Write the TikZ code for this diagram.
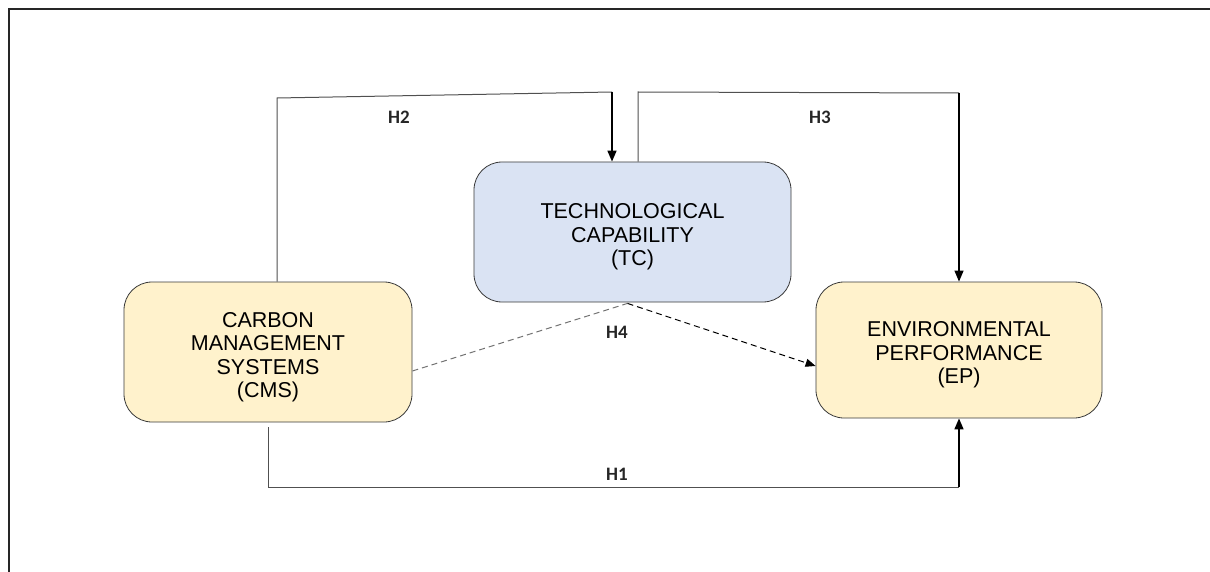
\documentclass[tikz,border=0pt]{standalone}
\usepackage{fontspec}
\setmainfont{Liberation Sans}
\newfontfamily\labelfont{Carlito}
\usetikzlibrary{arrows.meta}
\definecolor{tcfill}{HTML}{DAE3F3}
\definecolor{boxfill}{HTML}{FFF2CC}
\definecolor{boxline}{HTML}{3A3A3A}
\definecolor{wire}{HTML}{505050}
% invisible strut that lowers the text block inside a box
\newcommand{\toppad}{\rule{0pt}{25pt}}

\begin{document}
\begin{tikzpicture}[x=1pt,y=-1pt,
  concept/.style={draw=boxline, line width=0.8pt, rounded corners=28pt,
    inner sep=0pt, align=center, font=\fontsize{21.5}{23.5}\selectfont},
  wireline/.style={draw=wire, line width=1pt},
  arrowline/.style={draw=black, line width=1.6pt,
    -{Triangle[width=9pt,length=11pt]}},
  dashline/.style={line width=1pt, dash pattern=on 6pt off 4pt},
  hyp/.style={font=\labelfont\bfseries\fontsize{19}{22}\selectfont, text=black!85}
]
\useasboundingbox (0,0) rectangle (1210,572);

% outer frame
\draw[line width=2pt, black!85] (1240,9) -- (9,9) -- (9,600);

% constructs
\node[concept, fill=tcfill, minimum width=317pt, minimum height=140pt]
  (tc) at (632.5,232) {\toppad TECHNOLOGICAL\\CAPABILITY\\(TC)};
\node[concept, fill=boxfill, minimum width=288pt, minimum height=140pt]
  (cms) at (268,352) {\toppad CARBON\\MANAGEMENT\\SYSTEMS\\(CMS)};
\node[concept, fill=boxfill, minimum width=286pt, minimum height=136pt]
  (ep) at (959,350) {\toppad ENVIRONMENTAL\\PERFORMANCE\\(EP)};

% H2: CMS -> TC
\coordinate (h2a) at (277,98);
\coordinate (h2b) at (612,92);
\draw[wireline] (cms.north -| h2a) -- (h2a) -- (h2b);
\draw[arrowline] (h2b) -- (tc.north -| h2b);

% H3: TC -> EP
\coordinate (h3a) at (638,92);
\coordinate (h3b) at (959,93);
\draw[wireline] (tc.north -| h3a) -- (h3a) -- (h3b);
\draw[arrowline, line width=1.2pt] (h3b) -- (ep.north -| h3b);

% H1: CMS -> EP
\coordinate (h1a) at (268,487);
\coordinate (h1b) at (959,487);
\draw[wireline] ([yshift=-5pt]cms.south) -- (h1a) -- (h1b);
\draw[arrowline] (h1b) -- (ep.south -| h1b);

% H4: moderated path through TC
\coordinate (h4) at ([xshift=-5pt,yshift=-1pt]tc.south);
\draw[dashline, draw=wire!80] ([yshift=-19pt]cms.east) -- (h4);
\draw[dashline, draw=black, -{Triangle[width=8pt,length=10pt]}]
  (h4) -- ([yshift=-16pt]ep.west);

% hypothesis labels
\node[hyp] (lh2) at (399,117) {H2};
\node[hyp] (lh3) at (820,117) {H3};
\node[hyp] (lh4) at (617,332) {H4};
\node[hyp] (lh1) at (617,474) {H1};
\end{tikzpicture}
\end{document}
